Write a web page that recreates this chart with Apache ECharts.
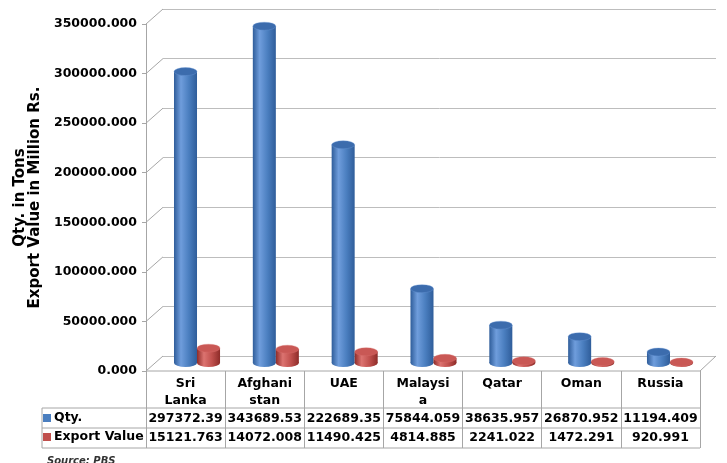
<!DOCTYPE html>
<html>
<head>
<meta charset="utf-8">
<script src="https://cdn.jsdelivr.net/npm/echarts@6/dist/echarts.min.js"></script>
<style>
html, body { margin: 0; padding: 0; background: #fff; }
#main { width: 727px; height: 463px; }
</style>
</head>
<body>
<div id="main"></div>
<script>
// data
var categories = ['Sri Lanka', 'Afghanistan', 'UAE', 'Malaysia', 'Qatar', 'Oman', 'Russia'];
var headerLabels = ['Sri\nLanka', 'Afghani\nstan', 'UAE', 'Malaysi\na', 'Qatar', 'Oman', 'Russia'];
var qty = [297372.39, 343689.53, 222689.35, 75844.059, 38635.957, 26870.952, 11194.409];
var exportValue = [15121.763, 14072.008, 11490.425, 4814.885, 2241.022, 1472.291, 920.991];
var yTicks = [0, 50000, 100000, 150000, 200000, 250000, 300000, 350000];
var seriesNames = ['Qty.', 'Export Value'];

var FONT = '"DejaVu Sans", Verdana, sans-serif';
var LINE = '#a6a6a6';

var blue = { base: '#4A7EBF', dark: '#2f5d9a', light: '#6f9ddc', top: '#3c6cad' };
var red = { base: '#C0504D', dark: '#8e2c29', light: '#dc7370', top: '#c95855' };

// cylinder drawn through the bar grid's own scales
function cylinder(side, pal) {
  return function (params, api) {
    var i = api.value(0);
    var v = api.value(1);
    var base = api.coord([i, 0]);
    var top = api.coord([i, v]);
    var band = api.size([1, 0])[0];
    var w = band * 0.292;
    var rx = w / 2, ry = 4;
    var cx = base[0] + side * rx;
    var body = new echarts.graphic.LinearGradient(0, 0, 1, 0, [
      { offset: 0, color: pal.dark },
      { offset: 0.3, color: pal.light },
      { offset: 0.65, color: pal.base },
      { offset: 1, color: pal.dark }
    ]);
    return {
      type: 'group',
      children: [
        { type: 'circle', x: cx, y: base[1], scaleY: ry / rx, shape: { cx: 0, cy: 0, r: rx }, style: { fill: body } },
        { type: 'rect', shape: { x: cx - rx, y: top[1], width: w, height: base[1] - top[1] }, style: { fill: body } },
        { type: 'circle', x: cx, y: top[1], scaleY: ry / rx, shape: { cx: 0, cy: 0, r: rx }, style: { fill: pal.top, stroke: pal.light, lineWidth: 0.5 } }
      ]
    };
  };
}

// perspective lines joining the front axis to the back wall
function diagonals(params, api) {
  var v = api.value(1);
  var p = api.coord([0, v]);
  var kids = [{ type: 'line', shape: { x1: p[0], y1: p[1], x2: p[0] + 17, y2: p[1] - 15 }, style: { stroke: LINE, lineWidth: 1 } }];
  if (v === 0) {
    var q = api.coord([1, 0]);
    kids.push({ type: 'line', shape: { x1: p[0], y1: p[1], x2: q[0], y2: q[1] }, style: { stroke: LINE, lineWidth: 1 } });
    kids.push({ type: 'line', shape: { x1: q[0], y1: q[1], x2: q[0] + 16, y2: q[1] - 15 }, style: { stroke: LINE, lineWidth: 1 } });
  }
  return { type: 'group', children: kids };
}

var chart = echarts.init(document.getElementById('main'));

chart.setOption({
  animation: false,
  backgroundColor: '#fff',
  textStyle: { fontFamily: FONT },
  legend: {
    orient: 'vertical',
    left: 43,
    top: 410,
    padding: 0,
    itemWidth: 8,
    itemHeight: 8,
    itemGap: 3,
    data: [{ name: seriesNames[0], icon: 'rect' }, { name: seriesNames[1], icon: 'rect' }],
    textStyle: { fontFamily: FONT, fontWeight: 'bold', fontSize: 12.5, color: '#000', lineHeight: 16, padding: [0, 0, 0, -2] }
  },
  grid: [
    { left: 146, right: 27, top: 24, bottom: 92 },
    { left: 163, right: 11, top: 9, bottom: 107 },
    { left: 157.6, right: 17.6, top: 20, bottom: 100 },
    { left: 146, right: 27, top: 371, bottom: 15 }
  ],
  xAxis: [
    { gridIndex: 0, type: 'value', min: 0, max: 1, show: false },
    { gridIndex: 1, type: 'value', min: 0, max: 1, show: false },
    { gridIndex: 2, type: 'category', data: categories, show: false },
    {
      gridIndex: 3, type: 'category', data: categories, position: 'top',
      axisLine: { show: false },
      axisTick: { show: false },
      splitLine: { show: true, interval: 0, lineStyle: { color: LINE, width: 1 } },
      axisLabel: {
        inside: true,
        interval: 0,
        margin: 4,
        verticalAlign: 'top',
        formatter: function (value, idx) {
          var h = headerLabels[idx].split('\n');
          if (h.length < 2) h.push(' ');
          return '{h|' + h[0] + '}\n{h|' + h[1] + '}\n{v|' + qty[idx] + '}\n{v|' + exportValue[idx] + '}';
        },
        rich: {
          h: { fontFamily: FONT, fontWeight: 'bold', fontSize: 12.5, lineHeight: 17, color: '#000' },
          v: { fontFamily: FONT, fontWeight: 'bold', fontSize: 12.5, lineHeight: 19, color: '#000' }
        }
      }
    }
  ],
  yAxis: [
    {
      gridIndex: 0, type: 'value', min: 0, max: 350000, interval: 50000,
      name: 'Qty. in Tons\nExport Value in Million Rs.',
      nameLocation: 'middle',
      nameRotate: 90,
      nameGap: 100,
      nameTextStyle: { fontFamily: FONT, fontWeight: 'bold', fontSize: 15, lineHeight: 15, color: '#000' },
      axisLine: { show: true, lineStyle: { color: LINE } },
      axisTick: { show: true, length: 4, lineStyle: { color: LINE } },
      splitLine: { show: false },
      axisLabel: {
        margin: 9,
        fontFamily: FONT, fontWeight: 'bold', fontSize: 12.5, color: '#000',
        formatter: function (v) { return v.toFixed(3); }
      }
    },
    {
      gridIndex: 1, type: 'value', min: 0, max: 350000, interval: 50000,
      axisLine: { show: false }, axisTick: { show: false }, axisLabel: { show: false },
      splitLine: { show: true, lineStyle: { color: '#bdbdbd', width: 1 } }
    },
    { gridIndex: 2, type: 'value', min: 0, max: 350000, show: false },
    { gridIndex: 3, type: 'value', show: false }
  ],
  graphic: [
    { type: 'line', shape: { x1: 42, y1: 408, x2: 700, y2: 408 }, style: { stroke: LINE, lineWidth: 1 } },
    { type: 'line', shape: { x1: 42, y1: 428, x2: 700, y2: 428 }, style: { stroke: LINE, lineWidth: 1 } },
    { type: 'line', shape: { x1: 42, y1: 448, x2: 700, y2: 448 }, style: { stroke: LINE, lineWidth: 1 } },
    { type: 'line', shape: { x1: 42, y1: 408, x2: 42, y2: 448 }, style: { stroke: LINE, lineWidth: 1 } },
    { type: 'text', left: 47, top: 456, style: { text: 'Source: PBS', font: 'italic bold 10px ' + FONT, fill: '#333' } }
  ],
  series: [
    {
      type: 'custom', name: '_diag', xAxisIndex: 0, yAxisIndex: 0, silent: true,
      data: yTicks.map(function (v) { return [0, v]; }),
      renderItem: diagonals
    },
    {
      type: 'custom', name: seriesNames[0], xAxisIndex: 2, yAxisIndex: 2,
      itemStyle: { color: blue.base },
      encode: { x: 0, y: 1 },
      data: qty.map(function (v, i) { return [i, v]; }),
      renderItem: cylinder(-1, blue)
    },
    {
      type: 'custom', name: seriesNames[1], xAxisIndex: 2, yAxisIndex: 2,
      itemStyle: { color: red.base },
      encode: { x: 0, y: 1 },
      data: exportValue.map(function (v, i) { return [i, v]; }),
      renderItem: cylinder(1, red)
    }
  ]
});
</script>
</body>
</html>
